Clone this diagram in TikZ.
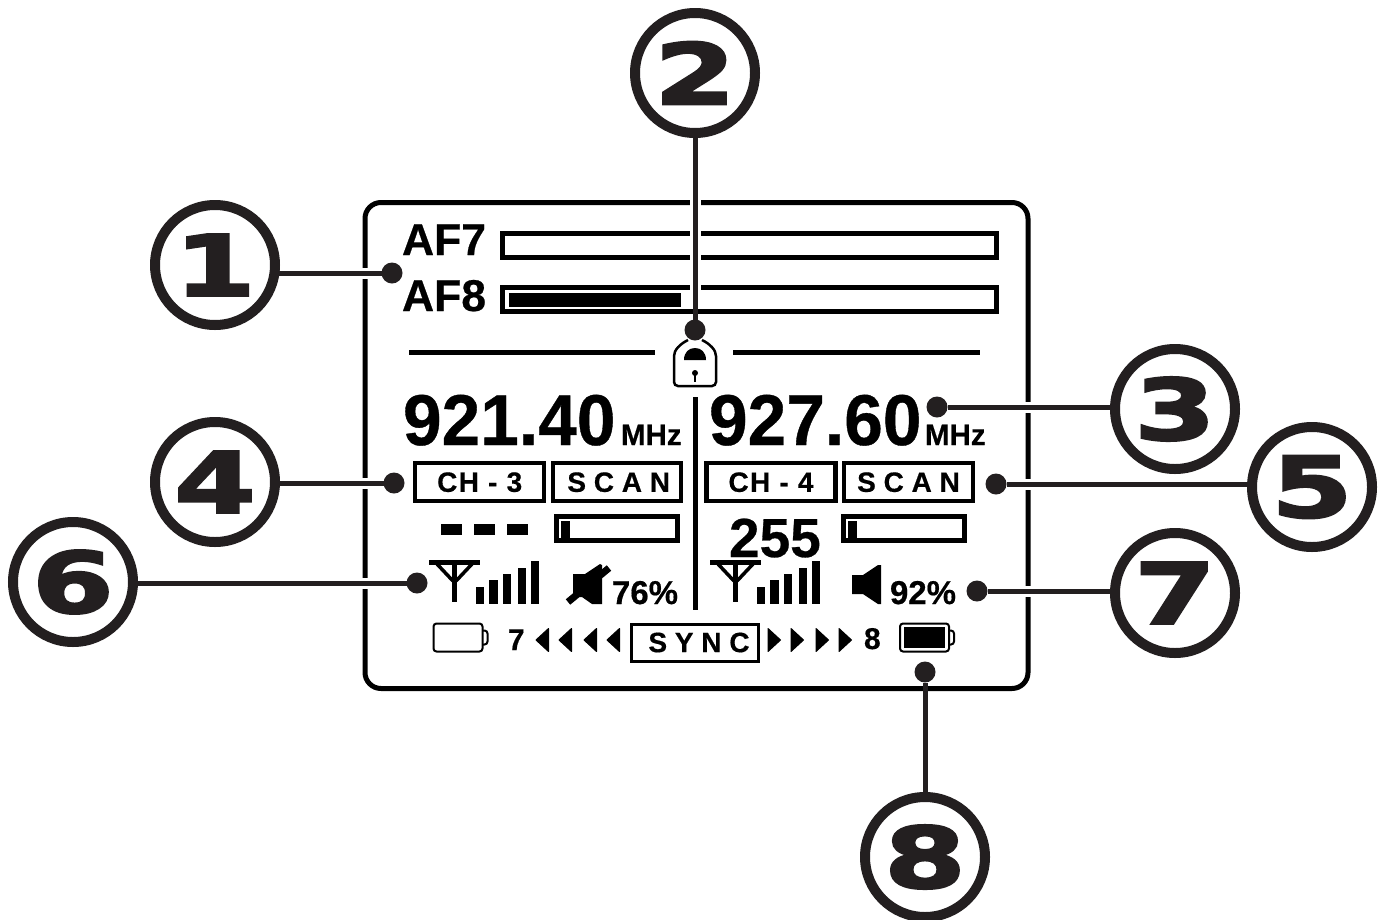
\documentclass[tikz,border=0pt]{standalone}
\usepackage{fontspec}
\setmainfont{Liberation Sans}[BoldFont={Liberation Sans Bold},BoldFeatures={FakeBold=0.5}]
\newfontfamily\freqfont{Liberation Sans Bold}[FakeStretch=0.965,FakeBold=0.5]
\newfontfamily\chfont{Liberation Sans Bold}[LetterSpace=5,FakeBold=0.5]
\newfontfamily\calloutfont{DejaVu Sans Bold}[FakeStretch=1.4,FakeBold=3]
\newcommand{\sz}[1]{\fontsize{#1}{#1}\selectfont\bfseries}
\definecolor{ink}{HTML}{231F20}
\tikzset{
  callout/.style={circle,draw=ink,line width=10pt,fill=white,minimum size=120pt,inner sep=0pt,outer sep=0pt,text=ink,font=\calloutfont\fontsize{84}{84}\selectfont},
  dotnode/.style={circle,fill=ink,minimum size=21pt,inner sep=0pt,outer sep=0pt},
  leader/.style={draw=ink,line width=5pt,preaction={draw=white,line width=11pt,shorten <=11pt,shorten >=6pt}},
  label/.style={anchor=base west,inner sep=0pt,outer sep=0pt,text=black},
  boxlabel/.style={rectangle,draw=black,line width=4.5pt,inner sep=0pt,outer sep=0pt,anchor=north west,align=center},
  meter/.style={rectangle,draw=black,line width=5pt,inner sep=0pt,outer sep=0pt,anchor=north west,minimum width=494pt,minimum height=24pt},
  smallbar/.style={rectangle,draw=black,line width=5pt,inner sep=0pt,outer sep=0pt,anchor=north west,minimum width=121pt,minimum height=24pt},
  panelline/.style={draw=black,line width=5pt},
  sig/.style={fill=black},
}
\newcommand{\antennaicon}{%
  \fill (0,0) rectangle (51,5);
  \fill (23,5) rectangle (28,42);
  \draw[line width=3.5pt] (8,4) -- (24,21);
  \draw[line width=3.5pt] (43,4) -- (27,21);
  \fill[sig] (47,27.3) rectangle (55,44.3);
  \fill[sig] (60.3,20) rectangle (68.7,44.3);
  \fill[sig] (74,14.3) rectangle (82,44.3);
  \fill[sig] (88.7,7.7) rectangle (97,44.3);
  \fill[sig] (101.7,0.7) rectangle (109.7,44.3);
}
\begin{document}
\begin{tikzpicture}[x=1pt,y=-1pt]
\useasboundingbox (0,0) rectangle (1379,919);
% panel
\node[rectangle,draw=black,line width=5pt,rounded corners=16pt,minimum width=663pt,minimum height=486pt,inner sep=0pt,outer sep=0pt,anchor=north west] (panel) at (365,202.5) {};
% AF meters
\node[label,font=\sz{44.5}] (af7) at (402,255) {AF7};
\node[label,font=\sz{44.5}] (af8) at (402,311) {AF8};
\node[meter] (bar7) at (502.5,233.5) {};
\node[meter] (bar8) at (502.5,287.5) {};
\fill (509,293) rectangle (681,307);
% rule
\draw[panelline] (409,352) -- (655,352);
\draw[panelline] (733,352) -- (980,352);
\draw[line width=5pt] (695,397) -- (695,610);
% lock
\draw[line width=2.5pt,rounded corners=4pt] (688,340) .. controls (680,344) and (674,350) .. (674,360) -- (674,386) -- (716,386) -- (716,360) .. controls (716,350) and (710,344) .. (702,340);
\fill (684,360) .. controls (684,352) and (689,348) .. (695,348) .. controls (701,348) and (706,352) .. (706,360) -- cycle;
\fill (695,373) circle[radius=3];
\fill (693.8,373) rectangle (696.2,382);
% frequencies
\node[label,font=\freqfont\fontsize{72}{72}\selectfont] (f1) at (403,445) {921.40};
\node[label,font=\sz{29.5}] (m1) at (621,445) {MHz};
\node[label,font=\freqfont\fontsize{72}{72}\selectfont] (f2) at (709,445) {927.60};
\node[label,font=\sz{29.5}] (m2) at (925,445) {MHz};
% channel boxes
\node[boxlabel,font=\chfont\fontsize{28}{28}\selectfont,minimum width=129pt,minimum height=38pt] (ch3) at (415.2,463.2) {CH - 3};
\node[boxlabel,font=\sz{28},minimum width=128pt,minimum height=38pt] (sc1) at (553.2,463.2) {\hspace{3pt}S C A N};
\node[boxlabel,font=\chfont\fontsize{28}{28}\selectfont,minimum width=129pt,minimum height=38pt] (ch4) at (706.5,463.2) {CH - 4};
\node[boxlabel,font=\sz{28},minimum width=129pt,minimum height=38pt] (sc2) at (844,463.2) {S C A N};
% dashes
\fill (441,524) rectangle (462,535);
\fill (474,524) rectangle (495,535);
\fill (507,524) rectangle (528,535);
% small bars
\node[smallbar] (s1) at (556.5,516.5) {};
\fill (561,521) rectangle (570,538);
\node[smallbar] (s2) at (843.5,516.5) {};
\fill (848,521) rectangle (857,538);
\node[label,font=\sz{55}] (n255) at (729,557) {255};
% antennas
\begin{scope}[shift={(429,560)}]\antennaicon\end{scope}
\begin{scope}[shift={(710,560)}]\antennaicon\end{scope}
% speakers
\fill (573,574) -- (585,574) -- (600,564) -- (602,565) -- (602,604) -- (592,604) -- (582,597) -- (573,597) -- cycle;
\draw[line width=7pt] (568,602) -- (609,568);
\fill (852,575) -- (863,575) -- (878,565) -- (881,565) -- (881,604) -- (878,604) -- (863,594) -- (852,594) -- cycle;
\node[label,font=\sz{33}] (p1) at (612,604) {76\%};
\node[label,font=\sz{33}] (p2) at (890,604) {92\%};
% batteries
\draw[line width=2pt,rounded corners=3pt] (433.5,623.5) rectangle (482.5,651.5);
\draw[line width=2pt,rounded corners=3pt] (483,630.5) -- (487.5,630.5) -- (487.5,644.5) -- (483,644.5);
\draw[line width=2pt,rounded corners=3pt] (900,623.5) rectangle (949,651.5);
\draw[line width=2pt,rounded corners=3pt] (949.5,630.5) -- (954,630.5) -- (954,644.5) -- (949.5,644.5);
\fill (903.5,627) rectangle (945,648);
% sync row
\node[label,font=\sz{30}] (n7) at (508,650) {7};
\node[label,font=\sz{30}] (n8) at (864,649) {8};
\node[boxlabel,line width=3pt,font=\sz{28},minimum width=127pt,minimum height=37pt] (sync) at (631.5,624) {\hspace{8pt}S Y N C};
\foreach \x in {536,559,584,607}
  \fill[draw=black,line width=1pt,line join=round] (\x,640) -- (\x+12.5,628.5) -- (\x+12.5,651.5) -- cycle;
\foreach \x in {768,791,816,839}
  \fill[draw=black,line width=1pt,line join=round] (\x+12.5,640) -- (\x,628.5) -- (\x,651.5) -- cycle;
% callouts
\node[callout] (c1) at (215,265) {1};
\node[callout] (c2) at (695,73) {2};
\node[callout] (c3) at (1175,409) {3};
\node[callout] (c4) at (215,482) {4};
\node[callout] (c5) at (1312,487) {5};
\node[callout] (c6) at (73,582) {6};
\node[callout] (c7) at (1175,593) {7};
\node[callout] (c8) at (925,857) {8};
% dots
\node[dotnode] (d1) at (392,273) {};
\node[dotnode] (d2) at (695,330) {};
\node[dotnode] (d3) at (937,407) {};
\node[dotnode] (d4) at (394,483) {};
\node[dotnode] (d5) at (996,484) {};
\node[dotnode] (d6) at (417,583) {};
\node[dotnode] (d7) at (977,591) {};
\node[dotnode] (d8) at (925,672) {};
% leaders
\draw[leader] (d1) -- (d1 -| c1.east);
\draw[leader] (d2) -- (d2 |- c2.south);
\draw[leader] (d3) -- (d3 -| c3.west);
\draw[leader] (d4) -- (d4 -| c4.east);
\draw[leader] (d5) -- (d5 -| c5.west);
\draw[leader] (d6) -- (d6 -| c6.east);
\draw[leader] (d7) -- (d7 -| c7.west);
\draw[leader] (d8) -- (d8 |- c8.north);
\end{tikzpicture}
\end{document}
